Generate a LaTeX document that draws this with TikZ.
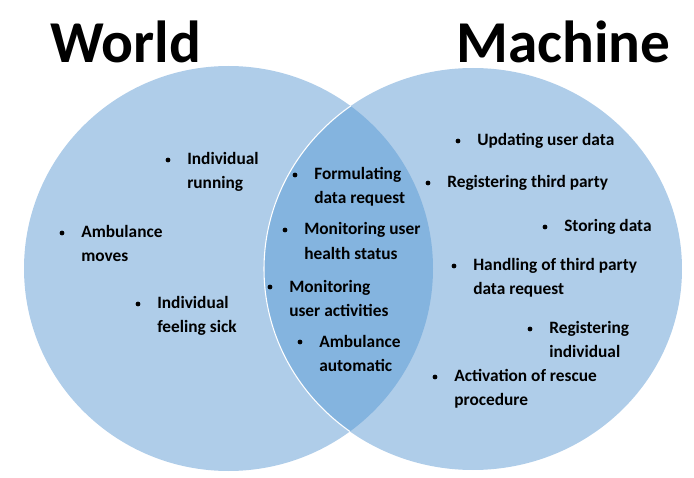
\documentclass[tikz,border=0pt]{standalone}
\usepackage{fontspec}
\setmainfont{Carlito}
\definecolor{setblue}{RGB}{175,205,233}
\definecolor{overlapblue}{RGB}{132,180,223}
% two lines, baseline on the first one
\newcommand{\twolines}[2]{\begin{tabular}[t]{@{}l@{}}#1\\#2\end{tabular}}

\begin{document}
\begin{tikzpicture}[x=0.75pt,y=-0.75pt,
    entry/.style={anchor=base west, inner sep=0pt,
      font=\fontsize{13}{18}\selectfont\bfseries},
    settitle/.style={anchor=base west, inner sep=0pt,
      font=\fontsize{44.5}{50}\selectfont\bfseries}]
    \useasboundingbox (0,0) rectangle (694,478);

    % The two sets
    \fill[setblue] (228.5,268.5) ellipse [x radius=204.5, y radius=202.5];
    \fill[setblue] (473,269) ellipse [x radius=209, y radius=201];

    % Shared part
    \begin{scope}
        \clip (228.5,268.5) ellipse [x radius=204.5, y radius=202.5];
        \fill[overlapblue] (473,269) ellipse [x radius=209, y radius=201];
        \draw[white, line width=0.8pt] (473,269) ellipse [x radius=209, y radius=201];
    \end{scope}

    % Titles
    \node[settitle] (world) at (50,63) {World};
    \node[settitle] (machine) at (456,63) {Machine};

    % World only
    \node[entry] (run) at (187,165) {\twolines{Individual}{running}};
    \node[entry] (amb) at (81,238) {\twolines{Ambulance}{moves}};
    \node[entry] (sick) at (157,309) {\twolines{Individual}{feeling sick}};

    % Shared
    \node[entry] (form) at (314,180) {\twolines{Formulating}{data request}};
    \node[entry] (health) at (304,235) {\twolines{Monitoring user}{health status}};
    \node[entry] (activ) at (289,292) {\twolines{Monitoring}{user activities}};
    \node[entry] (auto) at (319,347) {\twolines{Ambulance}{automatic}};

    % Machine only
    \node[entry] (upd) at (477,146) {Updating user data};
    \node[entry] (third) at (447,188) {Registering third party};
    \node[entry] (store) at (564,232) {Storing data};
    \node[entry] (handl) at (473,271) {\twolines{Handling of third party}{data request}};
    \node[entry] (regind) at (549,334) {\twolines{Registering}{individual}};
    \node[entry] (rescue) at (454,382) {\twolines{Activation of rescue}{procedure}};

    % Bullets
    \foreach \n in {run,amb,sick,form,health,activ,auto,upd,third,store,handl,regind,rescue}
        \fill (\n.base west) ++(-19,-5) circle (2.4);
\end{tikzpicture}
\end{document}
